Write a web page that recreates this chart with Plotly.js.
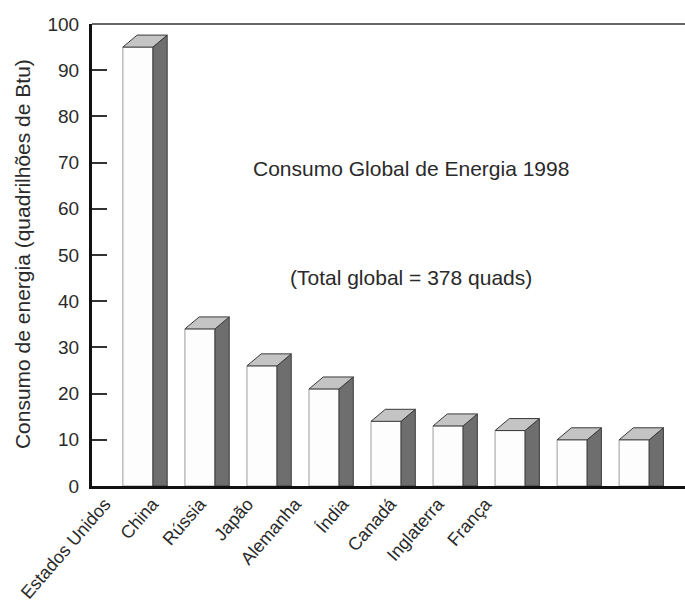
<!DOCTYPE html>
<html>
<head>
<meta charset="utf-8">
<script src="https://cdn.plot.ly/plotly-3.0.1.min.js"></script>
<style>html,body{margin:0;padding:0;background:#fff;}</style>
</head>
<body>
<div id="chart" style="width:685px;height:606px;"></div>
<script>
// Data
const categories = ['Estados Unidos', 'China', 'Rússia', 'Japão', 'Alemanha', 'Índia', 'Canadá', 'Inglaterra', 'França'];
const consumo = [95, 34, 26, 21, 14, 13, 12, 10, 10];
const yTickVals = [0, 10, 20, 30, 40, 50, 60, 70, 80, 90, 100];
const titleText = 'Consumo Global de Energia 1998';
const totalText = '(Total global = 378 quads)';
const yTitle = 'Consumo de energia (quadrilhões de Btu)';

// Styling / geometry of the pseudo-3D bars (in axis units)
const W = 0.484;   // front face width
const DX = 0.23;   // depth offset along x
const DY = 2.6;    // depth offset along y
const FONT = '"Liberation Sans", Arial, Helvetica, sans-serif';
const TXT = '#2a2a2a';

const idx = categories.map((_, i) => i);

// Side faces and top faces built from the data values
const sideX = [], sideY = [], topX = [], topY = [];
consumo.forEach((v, i) => {
  const xl = i - W / 2, xr = i + W / 2;
  sideX.push(xr, xr + DX, xr + DX, xr, xr, null);
  sideY.push(0, 0, v + DY, v, 0, null);
  topX.push(xl, xr, xr + DX, xl + DX, xl, null);
  topY.push(v, v, v + DY, v + DY, v, null);
});

const traces = [
  {
    type: 'bar', x: idx, y: consumo, width: W,
    marker: {color: '#fdfdfd', line: {color: '#9c9c9c', width: 1}},
    hoverinfo: 'skip', showlegend: false
  },
  {
    type: 'scatter', mode: 'lines', x: sideX, y: sideY, fill: 'toself',
    fillcolor: '#6e6e6e', line: {color: '#3a3a3a', width: 1},
    hoverinfo: 'skip', showlegend: false
  },
  {
    type: 'scatter', mode: 'lines', x: topX, y: topY, fill: 'toself',
    fillcolor: '#c4c4c4', line: {color: '#3a3a3a', width: 1},
    hoverinfo: 'skip', showlegend: false
  },
  {
    // carrier for the category label axis
    type: 'scatter', mode: 'markers', x: idx, y: consumo, xaxis: 'x2',
    marker: {opacity: 0}, hoverinfo: 'skip', showlegend: false
  }
];

const layout = {
  width: 685, height: 606,
  margin: {l: 92, r: 0, t: 24, b: 120, pad: 0},
  paper_bgcolor: '#ffffff', plot_bgcolor: '#ffffff',
  font: {family: FONT, color: TXT, size: 19},
  showlegend: false,
  xaxis: {
    range: [-0.74, 8.82], showline: true, linecolor: '#111', linewidth: 3,
    ticks: '', showticklabels: false, showgrid: false, zeroline: false, fixedrange: true
  },
  xaxis2: {
    overlaying: 'x', anchor: 'y', side: 'bottom',
    range: [-0.27, 12.19], tickmode: 'array', tickvals: idx, ticktext: categories,
    tickangle: -49, ticks: '', showline: false, showgrid: false, zeroline: false,
    ticklabelstandoff: 3,
    tickfont: {family: FONT, size: 18, color: TXT}, fixedrange: true
  },
  yaxis: {
    range: [0, 100], tickmode: 'array', tickvals: yTickVals,
    ticks: 'inside', ticklen: 15, tickwidth: 2, tickcolor: '#333',
    showline: true, linecolor: '#111', linewidth: 3,
    showgrid: false, zeroline: false, fixedrange: true,
    tickfont: {family: FONT, size: 19, color: TXT},
    ticklabelstandoff: 6
  },
  shapes: [
    {type: 'line', xref: 'paper', yref: 'paper', x0: 0, x1: 1, y0: 1, y1: 1,
     line: {color: '#666', width: 2}}
  ],
  annotations: [
    {text: yTitle, xref: 'paper', yref: 'paper', x: -0.118, y: 0.502,
     xanchor: 'center', yanchor: 'middle', textangle: -90, showarrow: false,
     font: {family: FONT, size: 21, color: TXT}},
    {text: titleText, xref: 'paper', yref: 'y', x: 0.538, y: 68.8, showarrow: false,
     font: {family: FONT, size: 21, color: TXT}},
    {text: totalText, xref: 'paper', yref: 'y', x: 0.538, y: 45.2, showarrow: false,
     font: {family: FONT, size: 21, color: TXT}}
  ]
};

Plotly.newPlot('chart', traces, layout, {displayModeBar: false, staticPlot: true});
</script>
</body>
</html>
